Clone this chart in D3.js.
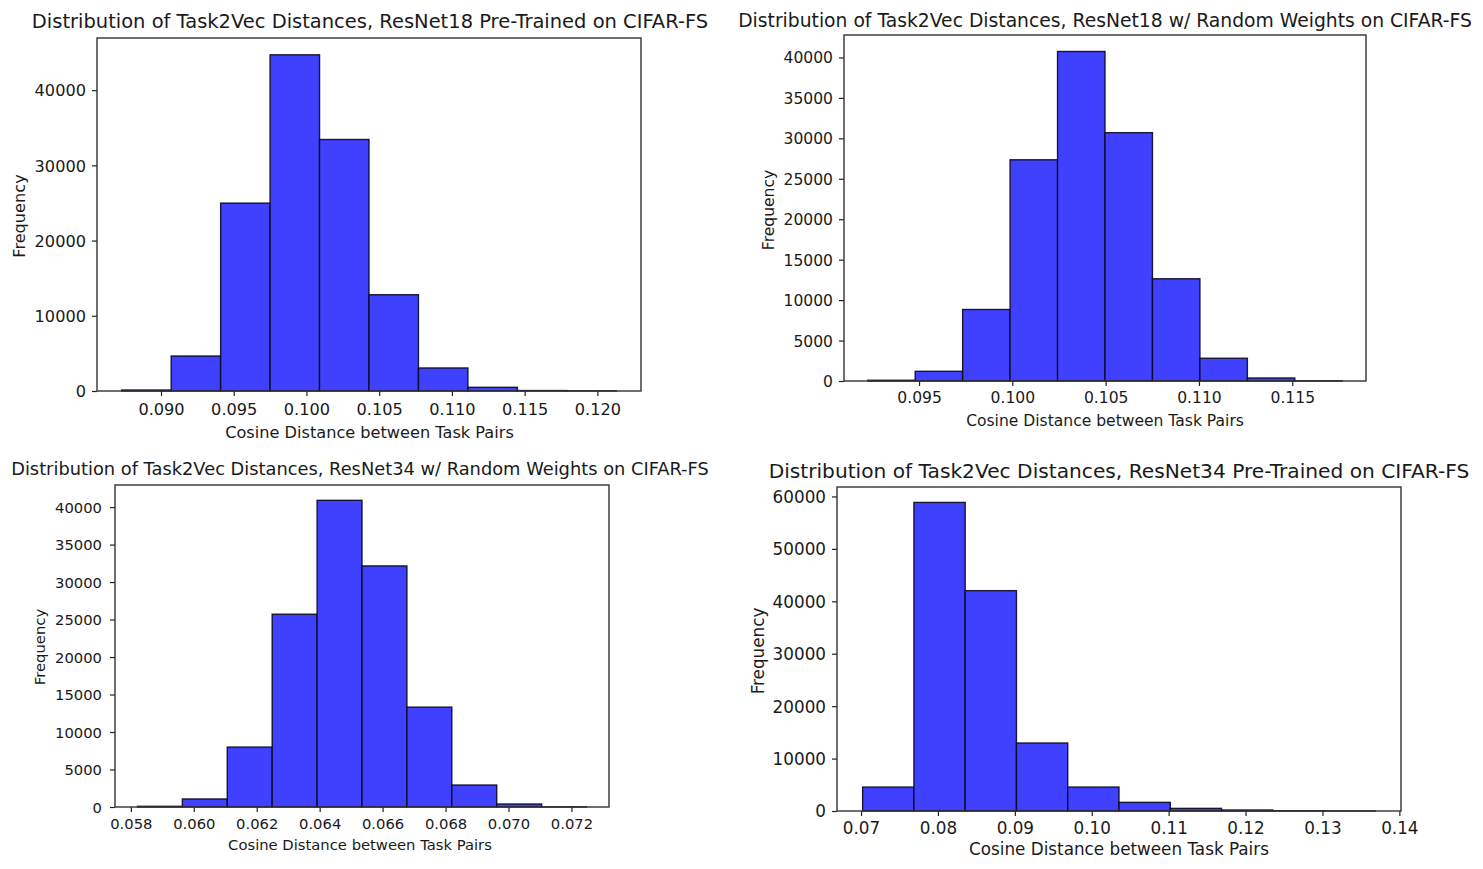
<!DOCTYPE html>
<html>
<head>
<meta charset="utf-8">
<script src="https://cdn.jsdelivr.net/npm/d3@7"></script>
<style>
  body { margin: 0; background: #fff; }
  text { font-family: "DejaVu Sans", sans-serif; fill: #1a1a1a; }
</style>
</head>
<body>
<svg id="chart" width="1483" height="869"></svg>
<script>
// shared labels
const xLabel = "Cosine Distance between Task Pairs";
const yLabel = "Frequency";

// titles
const titles = [
  "Distribution of Task2Vec Distances, ResNet18 Pre-Trained on CIFAR-FS",
  "Distribution of Task2Vec Distances, ResNet18 w/ Random Weights on CIFAR-FS",
  "Distribution of Task2Vec Distances, ResNet34 w/ Random Weights on CIFAR-FS",
  "Distribution of Task2Vec Distances, ResNet34 Pre-Trained on CIFAR-FS"
];

// histogram ranges (min, max of data, 10 equal bins) and bin counts
const range18pre = [0.0873, 0.1213];
const counts18pre = [130, 4650, 24980, 44700, 33440, 12800, 3060, 490, 60, 10];

const range18rand = [0.09225, 0.11768];
const counts18rand = [90, 1200, 8840, 27350, 40740, 30700, 12640, 2810, 370, 20];

const range34rand = [0.05821, 0.07248];
const counts34rand = [90, 1070, 7990, 25710, 40900, 32150, 13320, 2930, 400, 20];

const range34pre = [0.07021, 0.13688];
const counts34pre = [4560, 58860, 42030, 12970, 4560, 1650, 500, 190, 40, 10];

// tick values
const xTicks18pre = [0.090, 0.095, 0.100, 0.105, 0.110, 0.115, 0.120];
const yTicks18pre = [0, 10000, 20000, 30000, 40000];
const xTicks18rand = [0.095, 0.100, 0.105, 0.110, 0.115];
const yTicks18rand = [0, 5000, 10000, 15000, 20000, 25000, 30000, 35000, 40000];
const xTicks34rand = [0.058, 0.060, 0.062, 0.064, 0.066, 0.068, 0.070, 0.072];
const yTicks34rand = [0, 5000, 10000, 15000, 20000, 25000, 30000, 35000, 40000];
const xTicks34pre = [0.07, 0.08, 0.09, 0.10, 0.11, 0.12, 0.13, 0.14];
const yTicks34pre = [0, 10000, 20000, 30000, 40000, 50000, 60000];

// layout of each sub-picture (pixel boxes and text placement)
const panels = [
  { title: titles[0], range: range18pre, counts: counts18pre, xt: xTicks18pre, yt: yTicks18pre, fmt: ".3f",
    box: { l: 97, r: 641, t: 38, b: 391 }, tt: { cx: 370, cy: 21, w: 677 },
    xl: { cx: 369.5, dy: 41, w: 289 }, yl: { cx: 19, cy: 216 }, tickDy: 18, ygap: 11 },
  { title: titles[1], range: range18rand, counts: counts18rand, xt: xTicks18rand, yt: yTicks18rand, fmt: ".3f",
    box: { l: 844, r: 1366, t: 35, b: 381 }, tt: { cx: 1105, cy: 20, w: 734 },
    xl: { cx: 1105, dy: 40, w: 278 }, yl: { cx: 769, cy: 210 }, tickDy: 17, ygap: 11 },
  { title: titles[2], range: range34rand, counts: counts34rand, xt: xTicks34rand, yt: yTicks34rand, fmt: ".3f",
    box: { l: 115, r: 609, t: 485, b: 807 }, tt: { cx: 360, cy: 469, w: 698 },
    xl: { cx: 360, dy: 38, w: 264 }, yl: { cx: 40, cy: 647 }, tickDy: 17, ygap: 13 },
  { title: titles[3], range: range34pre, counts: counts34pre, xt: xTicks34pre, yt: yTicks34pre, fmt: ".2f",
    box: { l: 837, r: 1401, t: 487, b: 811 }, tt: { cx: 1119, cy: 471, w: 701 },
    xl: { cx: 1119, dy: 38, w: 300 }, yl: { cx: 758, cy: 651 }, tickDy: 17, ygap: 11 }
];

const svg = d3.select("#chart");

// size a text element so that it spans the wanted width
function fitText(sel, width) {
  sel.style("font-size", "20px");
  const w = sel.node().getComputedTextLength();
  const fs = 20 * width / w;
  sel.style("font-size", fs + "px");
  return fs;
}

panels.forEach(p => {
  const g = svg.append("g");
  const [lo, hi] = p.range;
  const step = (hi - lo) / p.counts.length;
  const bins = p.counts.map((c, i) => ({ x0: lo + i * step, x1: lo + (i + 1) * step, c }));

  const pad = (hi - lo) * 0.05;
  const x = d3.scaleLinear().domain([lo - pad, hi + pad]).range([p.box.l, p.box.r]);
  const y = d3.scaleLinear().domain([0, d3.max(p.counts) * 1.05]).range([p.box.b, p.box.t]);

  // bars
  g.append("g").selectAll("rect")
    .data(bins)
    .join("rect")
    .attr("x", d => x(d.x0))
    .attr("width", d => x(d.x1) - x(d.x0))
    .attr("y", d => y(d.c))
    .attr("height", d => y(0) - y(d.c))
    .attr("fill", "#4040ff")
    .attr("stroke", "#0a0a20")
    .attr("stroke-opacity", 0.9)
    .attr("stroke-width", 1.4);

  // x label first, ticks use the same size
  const xl = g.append("text")
    .attr("x", p.xl.cx).attr("y", p.box.b + p.xl.dy)
    .attr("dy", "0.35em").attr("text-anchor", "middle")
    .text(xLabel);
  const fs = fitText(xl, p.xl.w);

  const xAxis = g.append("g")
    .attr("transform", `translate(0,${p.box.b})`)
    .call(d3.axisBottom(x).tickValues(p.xt).tickFormat(d3.format(p.fmt)).tickSize(5));
  xAxis.select(".domain").remove();
  xAxis.selectAll("line").attr("stroke", "#222").attr("stroke-width", 1.2);
  xAxis.selectAll("text")
    .attr("y", p.tickDy).attr("dy", "0.35em")
    .style("font-size", fs + "px")
    .style("font-family", "DejaVu Sans").attr("fill", "#1a1a1a");

  const yAxis = g.append("g")
    .attr("transform", `translate(${p.box.l},0)`)
    .call(d3.axisLeft(y).tickValues(p.yt).tickFormat(d3.format("d")).tickSize(5));
  yAxis.select(".domain").remove();
  yAxis.selectAll("line").attr("stroke", "#222").attr("stroke-width", 1.2);
  yAxis.selectAll("text")
    .attr("x", -p.ygap).attr("dy", "0.35em")
    .style("font-size", fs + "px")
    .style("font-family", "DejaVu Sans").attr("fill", "#1a1a1a");

  g.append("text")
    .attr("transform", `translate(${p.yl.cx},${p.yl.cy}) rotate(-90)`)
    .attr("dy", "0.35em").attr("text-anchor", "middle")
    .style("font-size", fs + "px")
    .text(yLabel);

  // frame
  g.append("rect")
    .attr("x", p.box.l).attr("y", p.box.t)
    .attr("width", p.box.r - p.box.l).attr("height", p.box.b - p.box.t)
    .attr("fill", "none").attr("stroke", "#333").attr("stroke-width", 1.4);

  const tt = g.append("text")
    .attr("x", p.tt.cx).attr("y", p.tt.cy)
    .attr("dy", "0.35em").attr("text-anchor", "middle")
    .text(p.title);
  fitText(tt, p.tt.w);
});
</script>
</body>
</html>
